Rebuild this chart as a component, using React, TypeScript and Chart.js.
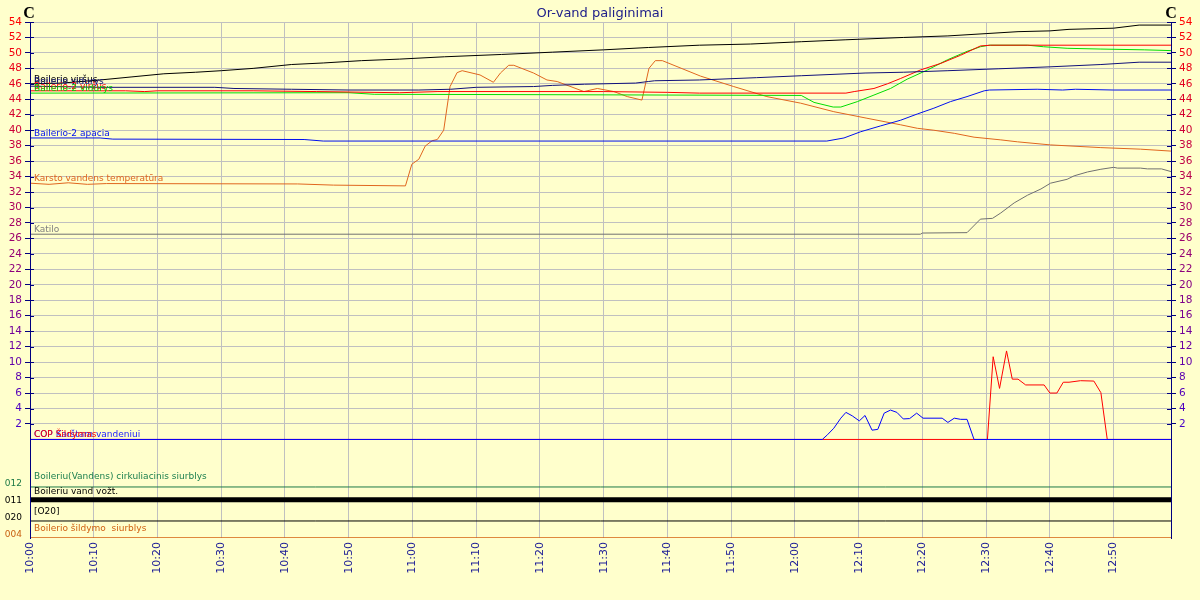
import { useEffect, useRef } from "react";
import { Chart, registerables } from "chart.js";

Chart.register(...registerables);

// ---------- DATA ----------
// time ticks (x axis), minutes counted from 10:00
const xTickLabels = ["10:00", "10:10", "10:20", "10:30", "10:40", "10:50", "11:00", "11:10", "11:20", "11:30", "11:40", "11:50", "12:00", "12:10", "12:20", "12:30", "12:40", "12:50"];
const xEndLabel = "12:59";

// temperature axis ticks
const tempTicks = [2, 4, 6, 8, 10, 12, 14, 16, 18, 20, 22, 24, 26, 28, 30, 32, 34, 36, 38, 40, 42, 44, 46, 48, 50, 52, 54];

// series: [minute since 10:00, value]
const boilerioVirsus: [number, number][] = [[0, 46.0], [5, 46.1], [11, 46.5], [16, 46.9], [21, 47.3], [26, 47.5], [30, 47.7], [35, 48.0], [41, 48.5], [46, 48.7], [52, 49.0], [58, 49.2], [65, 49.5], [74, 49.8], [82, 50.1], [90, 50.4], [97, 50.7], [105, 51.0], [113, 51.15], [121, 51.45], [128, 51.7], [137, 52.0], [144, 52.2], [150, 52.5], [155, 52.75], [160, 52.85], [163, 53.05], [170, 53.2], [174, 53.6], [179, 53.6]];
const boilerioVidurys: [number, number][] = [[0, 45.7], [11, 45.55], [29, 45.55], [32, 45.4], [41, 45.3], [50, 45.2], [61, 45.2], [66, 45.3], [70, 45.55], [79, 45.65], [82, 45.8], [87, 45.95], [95, 46.1], [97, 46.3], [98, 46.4], [105, 46.5], [114, 46.8], [121, 47.05], [131, 47.4], [137, 47.5], [144, 47.7], [152, 47.95], [160, 48.2], [168, 48.5], [174, 48.8], [179, 48.8]];
const bailerio2Virsus: [number, number][] = [[0, 45.1], [15, 45.1], [18, 45.0], [20, 45.1], [35, 45.1], [45, 45.0], [58, 44.85], [64, 45.0], [75, 45.0], [90, 45.0], [100, 44.9], [105, 44.8], [128, 44.8], [129.3, 45.0], [132.4, 45.4], [134.5, 46.0], [136.6, 46.7], [139.7, 47.8], [142.9, 48.65], [146, 49.7], [149.1, 50.9], [150.7, 51.0], [179, 51.0]];
const bailerio2Vidurys: [number, number][] = [[0, 44.8], [50, 44.85], [54, 44.65], [80, 44.6], [121, 44.5], [123, 43.6], [126, 43.0], [127.2, 43.0], [129.8, 43.7], [132.4, 44.55], [135, 45.4], [137.6, 46.6], [140.8, 47.8], [143.9, 49.1], [147, 50.2], [149.1, 50.8], [150.5, 51.0], [156.5, 51.0], [159, 50.8], [162.7, 50.6], [168, 50.5], [174.8, 50.4], [179, 50.3]];
const bailerio2Apacia: [number, number][] = [[0, 39.0], [11, 39.0], [13, 38.85], [43, 38.8], [46, 38.6], [125, 38.6], [127.7, 39.0], [130.3, 39.8], [133.4, 40.55], [136.6, 41.3], [139.2, 42.1], [141.8, 42.85], [144.4, 43.7], [147, 44.35], [149.7, 45.1], [150.5, 45.2], [158, 45.3], [162, 45.2], [164, 45.3], [170, 45.2], [179, 45.2]];
const karstoVandens: [number, number][] = [[0, 33.15], [3, 33.0], [6, 33.2], [9, 33.0], [12, 33.1], [42, 33.05], [47.6, 32.9], [58.9, 32.8], [59.9, 35.6], [61, 36.25], [62, 37.95], [63.1, 38.65], [63.9, 38.8], [64.9, 40.0], [65.9, 45.65], [67, 47.45], [67.8, 47.7], [70.6, 47.15], [72.7, 46.2], [73.8, 47.4], [75.1, 48.4], [75.9, 48.4], [79, 47.4], [81.1, 46.5], [82.7, 46.3], [86.9, 45.0], [89, 45.4], [91.6, 45.0], [93.7, 44.35], [96, 43.9], [97.1, 48.0], [98.1, 49.0], [99.2, 49.0], [105.2, 47.0], [110.4, 45.65], [115.6, 44.35], [120.9, 43.5], [126.1, 42.4], [131.3, 41.55], [136.6, 40.7], [139.2, 40.25], [141.8, 40.0], [145, 39.6], [148.1, 39.1], [152.3, 38.75], [154.9, 38.5], [160.1, 38.1], [168, 37.75], [174.2, 37.55], [179, 37.3]];
const katilo: [number, number][] = [[0, 26.55], [139.7, 26.55], [140, 26.7], [147, 26.75], [149.1, 28.5], [151, 28.6], [152.3, 29.3], [154.4, 30.6], [156.5, 31.6], [158.6, 32.4], [160.1, 33.15], [162.7, 33.65], [163.8, 34.1], [165.9, 34.6], [168, 34.95], [170, 35.2], [170.6, 35.1], [174.2, 35.1], [175.3, 35.0], [177.5, 35.0], [179, 34.65]];
const copKarstam: [number, number][] = [[0, 0], [124.3, 0], [125.1, 0.6], [126.1, 1.45], [127.2, 2.75], [128, 3.5], [129, 3.05], [130.1, 2.4], [131, 3.1], [132.1, 1.2], [133, 1.3], [134, 3.4], [135, 3.8], [136, 3.5], [137, 2.65], [138, 2.7], [139.1, 3.4], [140.1, 2.75], [143.1, 2.75], [144, 2.2], [145, 2.75], [146, 2.6], [147, 2.6], [148.1, 0], [179, 0]];
const copSildymas: [number, number][] = [[0, 0], [150.2, 0], [151.1, 10.7], [152.1, 6.6], [153.2, 11.45], [154.1, 7.8], [155, 7.8], [156.2, 7.05], [159.1, 7.05], [160, 6.0], [161.1, 6.0], [162.1, 7.4], [163, 7.4], [164.8, 7.6], [166.9, 7.55], [168, 6.05], [169, 0], [179, 0]];

// digital channels (0 = off)
const laneNames = ["Boileriu(Vandens) cirkuliacinis siurblys", "Boileriu vand vožt.", "[O20]", "Boilerio šildymo  siurblys"];
const laneTickCodes = ["012", "011", "020", "004"];
const laneCirkuliacinis: [number, number][] = [[0, 0], [179, 0]];
const laneVozt: [number, number][] = [[0, 0], [179, 0]];
const laneO20: [number, number][] = [[0, 0], [179, 0]];
const laneSildymo: [number, number][] = [[0, 0], [179, 0]];

// ---------- LAYOUT / STYLE ----------
const BG = "#ffffcc";
const GRID = "rgb(192,192,192)";
const NAVY = "#000080";
const Y_MIN = -12.75;
const Y_MAX = 54;
const laneBase = [-6.15, -7.8, -10.55, -12.75];
const laneTickPos = [-5.75, -7.95, -10.15, -12.35];
const laneTickColors = ["#1e7a46", "#000000", "#000000", "#c86010"];

const toMin = (s: string) => {
  const [h, m] = s.split(":").map(Number);
  return (h - 10) * 60 + m;
};
const xTicks = xTickLabels.map(toMin);
const xMax = toMin(xEndLabel);

const tempColor = (v: number) => {
  const t = (v - 2) / 52;
  const r = Math.round(70 + 185 * t);
  const b = Math.round(200 * (1 - t));
  return `rgb(${r},0,${b})`;
};

const pts = (a: [number, number][]) => a.map(([x, y]) => ({ x, y }));
const lanePts = (a: [number, number][], i: number) => a.map(([x, s]) => ({ x, y: laneBase[i] + s * 1.2 }));

const tagsPlugin = {
  id: "tags",
  afterDatasetsDraw(chart: any) {
    const { ctx, chartArea, scales } = chart;
    const y = scales.y;
    ctx.save();
    ctx.strokeStyle = NAVY;
    ctx.lineWidth = 1;
    tempTicks.forEach((v) => {
      const py = Math.round(y.getPixelForValue(v)) + 0.5;
      ctx.beginPath();
      ctx.moveTo(chartArea.left, py);
      ctx.lineTo(chartArea.left + 4, py);
      ctx.moveTo(chartArea.right - 4, py);
      ctx.lineTo(chartArea.right, py);
      ctx.stroke();
    });
    ctx.font = '9px "DejaVu Sans"';
    ctx.textAlign = "left";
    ctx.textBaseline = "alphabetic";
    chart.data.datasets.forEach((ds: any) => {
      if (!ds.tagText) return;
      const py = y.getPixelForValue(ds.data[0].y);
      ctx.fillStyle = ds.tagColor;
      ctx.fillText(ds.tagText, chartArea.left + 4, py - ds.tagOffset);
    });
    ctx.restore();
  },
  afterDraw(chart: any) {
    const { ctx, chartArea } = chart;
    ctx.save();
    ctx.fillStyle = "#20208a";
    ctx.font = '13px "DejaVu Sans"';
    ctx.textAlign = "center";
    ctx.textBaseline = "alphabetic";
    ctx.fillText("Or-vand paliginimai", chart.width / 2, 17);
    ctx.fillStyle = "#000000";
    ctx.font = 'bold 16px "Liberation Serif"';
    ctx.fillText("C", chartArea.left - 1, 18);
    ctx.fillText("C", chartArea.right, 18);
    ctx.restore();
  },
};

export default function App() {
  const ref = useRef<HTMLCanvasElement | null>(null);

  useEffect(() => {
    document.body.style.margin = "0";
    document.body.style.background = BG;
    if (!ref.current) return;

    const line = (label: string, data: any[], color: string, width: number, tag: string, tagColor: string, tagOffset: number) => ({
      label,
      data,
      borderColor: color,
      backgroundColor: color,
      borderWidth: width,
      pointRadius: 0,
      tension: 0,
      fill: false,
      yAxisID: "y",
      tagText: tag,
      tagColor,
      tagOffset,
    });

    const datasets: any[] = [
      line("Boilerio viršus", pts(boilerioVirsus), "#000000", 1, "Boilerio viršus", "#000000", 2),
      line("Boilerio vidurys", pts(boilerioVidurys), "#10107a", 1, "Boilerio vidurys", "#10107a", 2),
      line("Bailerio-2 viršus", pts(bailerio2Virsus), "#ff0000", 1, "Bailerio-2 viršus", "#ff0000", 2),
      line("Bailerio-2 vidurys", pts(bailerio2Vidurys), "#00dd00", 1, "Bailerio-2 vidurys", "#00cc00", 2),
      line("Bailerio-2 apacia", pts(bailerio2Apacia), "#0010ee", 1, "Bailerio-2 apacia", "#0010ee", 2),
      line("Karsto vandens temperatūra", pts(karstoVandens), "#e0661e", 1, "Karsto vandens temperatūra", "#e0661e", 2),
      line("Katilo", pts(katilo), "#707070", 1, "Katilo", "#808080", 2),
      line("COP Karštam vandeniui", pts(copKarstam), "#0000ff", 1, "COP Karštam vandeniui", "#2020ff", 2),
      line("COP Šildymas", pts(copSildymas), "#ff0000", 1, "COP Šildymas", "#ff0000", 2),
      line(laneNames[0], lanePts(laneCirkuliacinis, 0), "#1e7a46", 1, laneNames[0], "#1e8050", 8),
      line(laneNames[1], lanePts(laneVozt, 1), "#000000", 5, laneNames[1], "#000000", 6),
      line(laneNames[2], lanePts(laneO20, 2), "#000000", 1, laneNames[2], "#000000", 7),
      line(laneNames[3], lanePts(laneSildymo, 3), "#d46010", 1.5, laneNames[3], "#d06010", 7),
    ];

    const NT = tempTicks.length;
    const chart = new Chart(ref.current, {
      type: "line",
      data: { datasets },
      plugins: [tagsPlugin as any],
      options: {
        animation: false,
        responsive: false,
        devicePixelRatio: 1,
        layout: { padding: { top: 22, left: 0, right: 0, bottom: 0 } },
        plugins: { legend: { display: false }, tooltip: { enabled: false }, title: { display: false } },
        scales: {
          x: {
            type: "linear",
            min: 0,
            max: xMax,
            afterBuildTicks: (s: any) => {
              s.ticks = xTicks.map((v) => ({ value: v }));
            },
            afterFit: (s: any) => {
              s.height = 62;
            },
            ticks: {
              autoSkip: false,
              minRotation: 90,
              maxRotation: 90,
              padding: 4,
              color: "#1c1c96",
              font: { family: '"DejaVu Sans"', size: 11 },
              callback: (_v: any, i: number) => xTickLabels[i],
            },
            grid: { color: GRID, drawTicks: false, lineWidth: 1 },
            border: { display: false },
          },
          y: {
            type: "linear",
            position: "left",
            min: Y_MIN,
            max: Y_MAX,
            afterBuildTicks: (s: any) => {
              s.ticks = [...tempTicks.map((v) => ({ value: v })), ...laneTickPos.map((v) => ({ value: v }))];
            },
            afterFit: (s: any) => {
              s.width = 30;
            },
            ticks: {
              autoSkip: false,
              padding: 3,
              font: (c: any) => ({ family: '"DejaVu Sans"', size: c.index < NT ? 10.5 : 9 }),
              color: (c: any) => (c.index < NT ? tempColor(tempTicks[c.index]) : laneTickColors[c.index - NT]),
              callback: (_v: any, i: number) => (i < NT ? String(tempTicks[i]) : laneTickCodes[i - NT]),
            },
            grid: {
              color: (c: any) => (c.index < NT ? GRID : "rgba(0,0,0,0)"),
              tickColor: (c: any) => (c.index < NT ? NAVY : "rgba(0,0,0,0)"),
              tickLength: 5,
              lineWidth: 1,
            },
            border: { display: true, color: NAVY, width: 1, z: 1 } as any,
          },
          y2: {
            type: "linear",
            position: "right",
            min: Y_MIN,
            max: Y_MAX,
            afterBuildTicks: (s: any) => {
              s.ticks = tempTicks.map((v) => ({ value: v }));
            },
            afterFit: (s: any) => {
              s.width = 29;
            },
            ticks: {
              autoSkip: false,
              padding: 3,
              font: { family: '"DejaVu Sans"', size: 10.5 },
              color: (c: any) => tempColor(tempTicks[c.index] ?? 2),
              callback: (_v: any, i: number) => String(tempTicks[i]),
            },
            grid: { drawOnChartArea: false, tickColor: NAVY, tickLength: 5 },
            border: { display: true, color: NAVY, width: 1, z: 1 } as any,
          },
        },
      } as any,
    });
    return () => chart.destroy();
  }, []);

  return (
    <div style={{ width: 1200, height: 600, background: BG }}>
      <canvas ref={ref} width={1200} height={600} style={{ display: "block" }} />
    </div>
  );
}
